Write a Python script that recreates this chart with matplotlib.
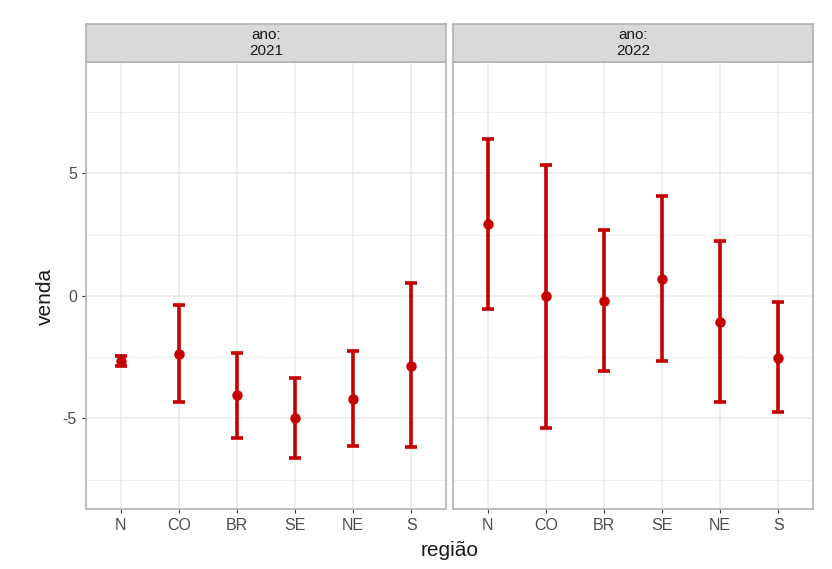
import matplotlib
matplotlib.use("Agg")
import matplotlib.pyplot as plt

plt.rcParams["font.family"] = ["Liberation Sans", "DejaVu Sans"]

regioes = ["N", "CO", "BR", "SE", "NE", "S"]
anos = ["2021", "2022"]

media_2021 = [-2.65, -2.37, -4.04, -4.98, -4.20, -2.86]
lo_2021 = [-2.85, -4.33, -5.80, -6.60, -6.12, -6.16]
hi_2021 = [-2.45, -0.37, -2.33, -3.35, -2.24, 0.53]

media_2022 = [2.94, -0.02, -0.20, 0.69, -1.06, -2.53]
lo_2022 = [-0.53, -5.39, -3.06, -2.65, -4.33, -4.73]
hi_2022 = [6.41, 5.35, 2.70, 4.08, 2.24, -0.24]

yticks = [-5, 0, 5]
ytick_labels = ["-5", "0", "5"]
yminor = [-7.5, -2.5, 2.5, 7.5]

red = "#C40000"

fig = plt.figure(figsize=(8.32, 5.69), dpi=100)
panels = [
    (media_2021, lo_2021, hi_2021),
    (media_2022, lo_2022, hi_2022),
]
lefts = [86 / 832, 453 / 832]
w = 360 / 832
bottom = 1 - 509 / 569
h = (509 - 62) / 569
strip_h = (62 - 24) / 569

for i, (m, lo, hi) in enumerate(panels):
    ax = fig.add_axes([lefts[i], bottom, w, h])
    x = list(range(1, len(regioes) + 1))
    yerr = [[mi - l for mi, l in zip(m, lo)], [hh - mi for mi, hh in zip(m, hi)]]
    ax.errorbar(x, m, yerr=yerr, fmt="o", color=red, ecolor=red, elinewidth=2.6,
                capsize=4.5, capthick=2.6, markersize=6.5, zorder=3)
    ax.set_xlim(0.4, 6.6)
    ax.set_ylim(-8.7, 9.55)
    ax.set_xticks(x)
    ax.set_xticklabels(regioes, color="#4D4D4D", fontsize=11.5)
    ax.set_yticks(yticks)
    ax.set_yticks(yminor, minor=True)
    if i == 0:
        ax.set_yticklabels(ytick_labels, color="#4D4D4D", fontsize=11.5)
    else:
        ax.tick_params(axis="y", which="both", left=False, labelleft=False)
    ax.tick_params(axis="both", which="major", length=3, color="#333333", width=0.8)
    ax.tick_params(axis="y", which="minor", length=0)
    ax.grid(True, which="major", color="#EBEBEB", linewidth=1.1, zorder=0)
    ax.grid(True, which="minor", axis="y", color="#EBEBEB", linewidth=0.6, zorder=0)
    ax.set_axisbelow(True)
    for s in ax.spines.values():
        s.set_color("#B3B3B3")
        s.set_linewidth(1.2)
    # strip
    sax = fig.add_axes([lefts[i], bottom + h, w, strip_h])
    sax.set_xticks([])
    sax.set_yticks([])
    sax.set_facecolor("#D9D9D9")
    for s in sax.spines.values():
        s.set_color("#B3B3B3")
        s.set_linewidth(1.2)
    sax.text(0.5, 0.5, "ano:\n" + anos[i], ha="center", va="center",
             fontsize=11, color="#1A1A1A", transform=sax.transAxes, linespacing=1.15)

fig.text((86 + 813) / 2 / 832, 1 - 550 / 569, "região", ha="center", va="center",
         fontsize=15, color="#1A1A1A")
fig.text(45 / 832, 1 - 296 / 569, "venda", ha="center", va="center",
         rotation=90, fontsize=15, color="#1A1A1A")

fig.savefig("out.png", dpi=100, facecolor="white")
